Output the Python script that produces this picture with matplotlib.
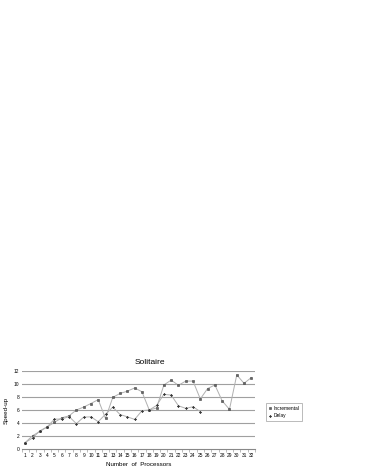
import matplotlib
matplotlib.use("Agg")
import matplotlib.pyplot as plt
from matplotlib.ticker import FixedLocator

plt.rcParams['font.family'] = ['Liberation Sans', 'DejaVu Sans']

processors = list(range(1, 33))
incremental = [1.0, 2.05, 2.7, 3.4, 4.1, 4.8, 5.1, 6.0, 6.45, 7.0, 7.6, 4.7,
               7.95, 8.55, 8.9, 9.4, 8.8, 6.0, 6.3, 9.85, 10.6, 9.8, 10.45, 10.45,
               7.7, 9.3, 9.85, 7.4, 6.1, 11.4, 10.1, 11.0]
delay = [1.0, 1.7, 2.8, 3.4, 4.6, 4.6, 5.0, 3.9, 4.9, 4.95, 4.2, 5.35,
         6.45, 5.3, 4.95, 4.55, 5.9, 6.0, 6.7, 8.4, 8.3, 6.65, 6.25, 6.5, 5.75]
yticks = [0, 2, 4, 6, 8, 10, 12]

fig = plt.figure(figsize=(3.66, 4.73), dpi=100)
ax = fig.add_axes([21.65/366, 24/473, (255-21.65)/366, 78/473])

xs_inc = list(range(len(incremental)))
xs_del = list(range(len(delay)))
ax.plot(xs_inc, incremental, color='#b0b0b0', lw=0.7, marker='s', ms=1.9,
        mfc='#666666', mec='#444444', mew=0.4, label='Incremental', zorder=3)
ax.plot(xs_del, delay, color='#b0b0b0', lw=0.7, marker='P', ms=1.8,
        mfc='#333333', mec='#333333', mew=0.2, label='Delay', zorder=3)

ax.set_xlim(-0.5, len(processors) - 0.5)
ax.set_ylim(0, 12)
ax.set_yticks(yticks)
ax.set_yticklabels([str(v) for v in yticks], fontsize=3.5)
ax.set_xticks(range(len(processors)))
ax.set_xticklabels([str(p) for p in processors], fontsize=3.5)
ax.xaxis.set_minor_locator(FixedLocator([i - 0.5 for i in range(len(processors) + 1)]))
ax.tick_params(axis='x', which='major', length=0, pad=3)
ax.tick_params(axis='x', which='minor', length=2, width=0.4, color='#888888')
ax.tick_params(axis='y', length=0, pad=1.5)
for v in yticks[1:]:
    ax.axhline(v, color='#a0a0a0', lw=0.8, zorder=1)
for s in ['top', 'right', 'left']:
    ax.spines[s].set_visible(False)
ax.spines['bottom'].set_color('#888888')
ax.spines['bottom'].set_linewidth(0.8)

ax.set_xlabel('Number  of  Processors', fontsize=4.5, labelpad=3)
ax.set_ylabel('Speed-up', fontsize=4.5, labelpad=4)
fig.text(150/366, 1 - 362.5/473, 'Solitaire', ha='center', va='center', fontsize=6)

leg = fig.legend(loc='center left', bbox_to_anchor=(264/366, 1 - 412/473),
                 fontsize=3.5, frameon=True, fancybox=False, edgecolor='#888888',
                 borderpad=0.5, handlelength=0.6, handletextpad=0.4, labelspacing=0.5)
leg.get_frame().set_linewidth(0.5)
for h in leg.legend_handles:
    h.set_linestyle('none')

fig.savefig('out.png', dpi=100)
